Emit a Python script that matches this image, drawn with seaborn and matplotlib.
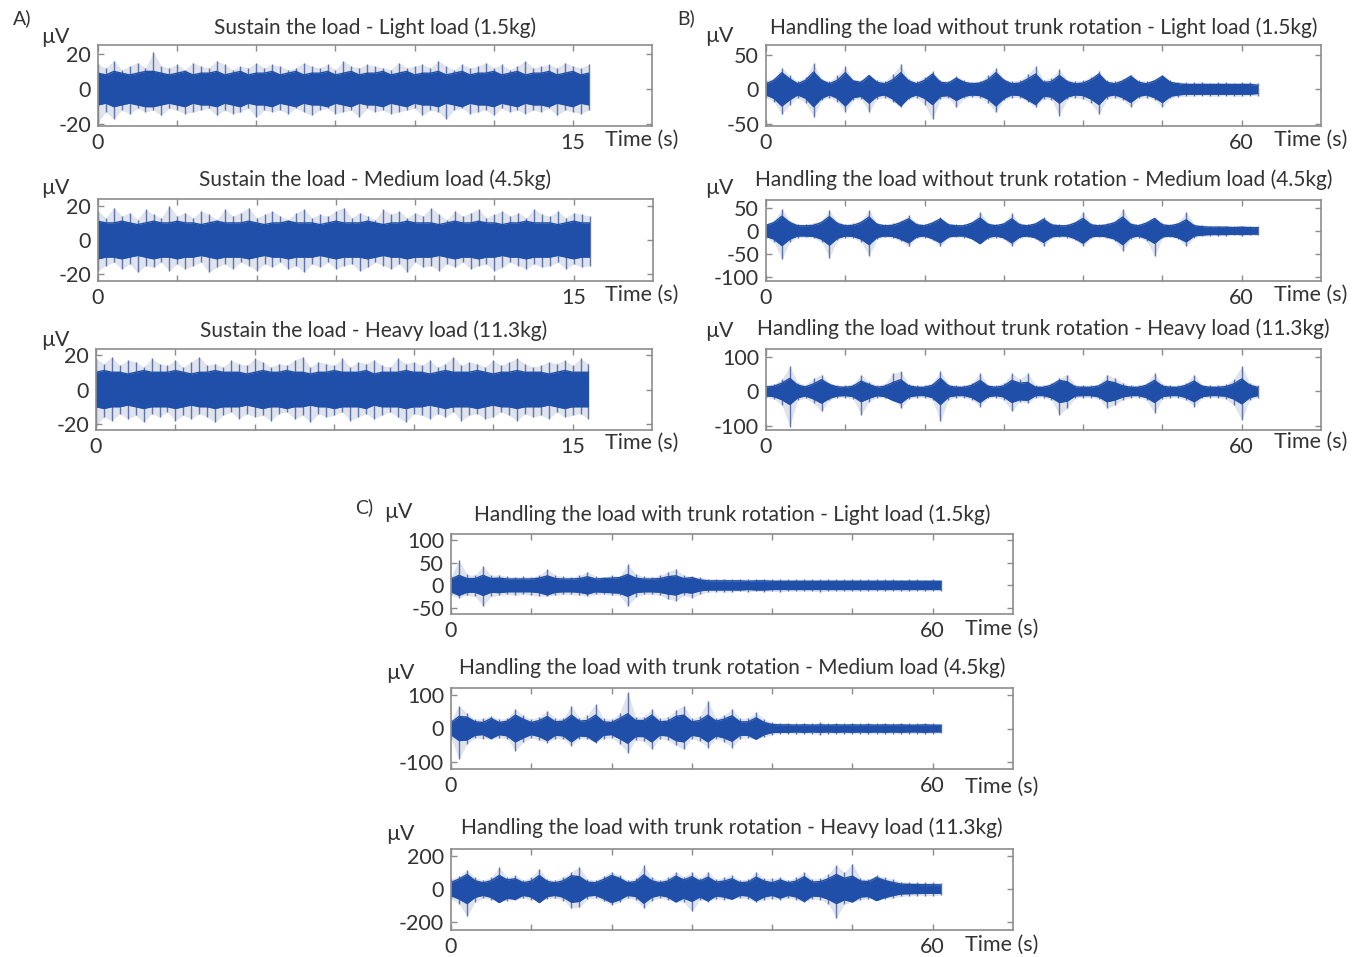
import numpy as np
import matplotlib.pyplot as plt
import seaborn as sns

sns.set_theme(style="white")
plt.rcParams["font.family"] = ["Lato", "DejaVu Sans"]
plt.rcParams["axes.unicode_minus"] = False

# EMG traces, stored as envelopes:
# core = half-width of the dense band, up / down = spike tips (uV)
# A panels: one value every 0.25 s, B and C panels: one value every 1 s

a1_core = [9, 8, 10, 9, 8, 9, 10, 10, 9, 8, 9, 10, 8, 9, 9, 10, 8, 9, 10, 8, 9, 9, 10, 8, 9, 10, 8, 9, 9, 10, 8,
           9, 10, 8, 9, 9, 10, 8, 9, 10, 8, 9, 9, 10, 8, 9, 10, 8, 9, 9, 10, 8, 9, 10, 8, 9, 9, 10, 8, 9, 10, 8, 9]
a1_up = [14, 12, 16, 11, 13, 15, 12, 21, 13, 12, 14, 11, 15, 13, 12, 16, 14, 11, 13, 12, 15, 12, 14, 13, 11,
         12, 15, 13, 12, 14, 11, 16, 13, 12, 14, 13, 12, 11, 15, 12, 13, 14, 12, 16, 13, 11, 14, 12, 13, 15,
         12, 14, 11, 13, 16, 12, 13, 14, 12, 15, 13, 12, 14]
a1_down = [19, 13, 17, 12, 14, 11, 13, 12, 15, 11, 12, 14, 13, 12, 11, 15, 12, 14, 13, 11, 16, 12, 13, 12, 14,
           11, 13, 15, 12, 11, 14, 13, 12, 16, 11, 13, 12, 14, 13, 12, 11, 15, 12, 13, 17, 12, 11, 14, 13, 12,
           15, 11, 13, 12, 14, 12, 13, 11, 15, 12, 13, 14, 12]

a2_core = [11, 10, 10, 11, 10, 9, 10, 11, 10, 10, 11, 10, 10, 9, 10, 11, 10, 10, 10, 11, 10, 9, 10, 10, 11,
           10, 10, 10, 9, 10, 11, 10, 10, 10, 11, 10, 9, 10, 10, 11, 10, 10, 10, 9, 10, 11, 10, 10, 11, 10,
           10, 9, 10, 10, 11, 10, 10, 10, 9, 10, 11, 10, 10]
a2_up = [17, 13, 19, 14, 16, 12, 18, 15, 13, 20, 14, 16, 13, 17, 15, 12, 18, 14, 16, 19, 13, 15, 17, 14, 12,
         16, 18, 13, 15, 14, 17, 19, 13, 16, 14, 12, 18, 15, 17, 13, 16, 14, 19, 15, 12, 17, 14, 16, 18, 13,
         15, 17, 14, 16, 13, 18, 15, 14, 17, 13, 16, 15, 14]
a2_down = [18, 15, 13, 17, 14, 19, 15, 16, 13, 18, 14, 17, 15, 13, 19, 16, 14, 17, 13, 15, 18, 14, 16, 13, 17,
           15, 19, 14, 16, 13, 17, 15, 14, 18, 16, 13, 15, 17, 14, 19, 13, 16, 15, 18, 14, 16, 13, 17, 15, 14,
           18, 16, 13, 15, 17, 14, 16, 15, 13, 17, 14, 16, 15]

a3_core = [10, 11, 10, 10, 9, 10, 11, 10, 10, 10, 11, 10, 9, 10, 10, 11, 10, 10, 10, 9, 10, 11, 10, 10, 11,
           10, 10, 9, 10, 10, 11, 10, 10, 10, 11, 9, 10, 10, 10, 11, 10, 10, 9, 10, 11, 10, 10, 10, 11, 10,
           9, 10, 10, 11, 10, 10, 10, 9, 10, 11, 10, 10, 10]
a3_up = [18, 15, 19, 14, 17, 16, 13, 18, 15, 14, 17, 13, 16, 19, 14, 15, 13, 17, 15, 14, 18, 16, 13, 15, 14,
         17, 19, 13, 16, 15, 14, 18, 13, 16, 15, 17, 14, 13, 18, 15, 16, 14, 17, 13, 15, 19, 14, 16, 15, 13,
         17, 14, 16, 18, 15, 13, 14, 16, 15, 17, 14, 18, 15]
a3_down = [21, 16, 18, 14, 17, 15, 19, 14, 16, 13, 18, 15, 17, 14, 16, 19, 15, 13, 17, 14, 16, 15, 18, 14, 13,
           17, 15, 19, 14, 16, 15, 13, 18, 16, 14, 17, 15, 13, 16, 19, 14, 15, 17, 14, 16, 13, 18, 15, 14, 17,
           16, 13, 15, 18, 14, 16, 15, 17, 13, 16, 15, 14, 17]

b1_core = [8, 13, 24, 15, 8, 13, 25, 13, 8, 13, 24, 12, 10, 20, 10, 8, 14, 24, 12, 8, 13, 22, 10, 9, 16,
           10, 8, 9, 14, 24, 13, 8, 9, 15, 22, 10, 11, 20, 11, 8, 9, 14, 22, 10, 8, 12, 19, 10, 8, 12,
           19, 10, 8, 7, 7, 7, 7, 7, 7, 7, 7, 7, 6]
b1_up = [13, 16, 31, 20, 12, 18, 38, 15, 12, 20, 33, 14, 13, 19, 14, 12, 22, 36, 15, 12, 18, 26, 13, 12, 19,
         13, 11, 12, 20, 31, 15, 12, 13, 22, 33, 14, 16, 29, 14, 12, 13, 18, 26, 13, 12, 15, 21, 13, 12, 14,
         21, 13, 11, 10, 10, 11, 9, 10, 10, 9, 10, 10, 9]
b1_down = [12, 18, 36, 22, 12, 20, 40, 16, 12, 18, 33, 15, 14, 33, 14, 12, 18, 26, 14, 12, 22, 43, 14, 12, 26,
           13, 11, 12, 20, 33, 16, 12, 12, 18, 26, 14, 15, 38, 14, 12, 14, 20, 36, 14, 12, 15, 26, 13, 12, 15,
           26, 13, 11, 10, 10, 9, 10, 10, 9, 10, 10, 9, 9]

b2_core = [12, 18, 32, 18, 11, 11, 12, 18, 31, 16, 11, 12, 18, 30, 14, 11, 12, 18, 26, 13, 11, 17, 26, 13, 11,
           11, 17, 28, 14, 11, 15, 26, 13, 11, 15, 25, 13, 11, 11, 17, 27, 13, 11, 13, 18, 30, 14, 11, 17, 27,
           13, 11, 15, 24, 11, 9, 8, 8, 8, 7, 8, 7, 7]
b2_up = [15, 22, 48, 22, 15, 14, 16, 22, 45, 20, 15, 16, 22, 45, 18, 14, 16, 22, 34, 16, 15, 20, 30, 16, 14,
         15, 20, 41, 18, 15, 18, 38, 16, 14, 18, 30, 16, 14, 15, 20, 41, 16, 14, 16, 20, 48, 18, 15, 20, 27,
         16, 14, 18, 41, 15, 12, 11, 11, 11, 10, 11, 10, 10]
b2_down = [15, 24, 62, 24, 15, 14, 16, 24, 58, 20, 15, 16, 24, 55, 18, 14, 16, 22, 34, 16, 15, 20, 34, 16, 14,
           15, 18, 26, 18, 15, 18, 34, 16, 14, 18, 34, 16, 14, 15, 20, 34, 16, 14, 16, 22, 44, 18, 15, 22, 55,
           16, 14, 18, 34, 15, 12, 11, 11, 11, 10, 11, 10, 10]

b3_core = [13, 15, 24, 38, 18, 13, 22, 34, 20, 13, 12, 15, 30, 20, 12, 15, 26, 34, 16, 12, 12, 18, 38, 16, 12,
           12, 18, 32, 15, 12, 16, 32, 24, 26, 12, 12, 18, 32, 28, 13, 12, 12, 16, 30, 25, 16, 12, 12, 18, 32,
           15, 12, 12, 18, 30, 15, 12, 12, 14, 22, 36, 18, 12]
b3_up = [18, 22, 35, 73, 25, 20, 39, 49, 25, 18, 18, 22, 49, 28, 18, 22, 53, 58, 22, 18, 18, 25, 58, 22, 18,
         18, 25, 53, 20, 18, 25, 53, 35, 53, 18, 18, 25, 39, 49, 20, 18, 18, 22, 49, 39, 25, 18, 18, 25, 53,
         22, 18, 18, 25, 49, 20, 18, 18, 22, 35, 73, 25, 18]
b3_down = [18, 22, 40, 102, 25, 20, 34, 58, 25, 18, 18, 22, 68, 30, 18, 20, 20, 49, 22, 18, 18, 25, 87, 24, 18,
           18, 25, 44, 20, 18, 25, 58, 30, 34, 18, 18, 25, 68, 49, 20, 18, 18, 22, 49, 39, 25, 18, 18, 25, 63,
           22, 18, 18, 25, 44, 20, 18, 18, 22, 40, 83, 25, 18]

c1_core = [14, 22, 15, 15, 22, 15, 16, 14, 14, 14, 14, 16, 21, 15, 14, 14, 15, 19, 14, 15, 16, 17, 24, 16, 14,
           14, 15, 19, 21, 15, 17, 12, 10, 10, 10, 10, 10, 9, 10, 10, 9, 9, 9, 9, 9, 9, 9, 9, 9, 9,
           9, 9, 9, 9, 9, 9, 9, 9, 9, 9, 9, 9]
c1_up = [20, 55, 24, 22, 42, 22, 23, 20, 19, 20, 19, 22, 36, 22, 20, 19, 22, 30, 20, 19, 22, 20, 46, 25, 20,
         19, 22, 30, 36, 22, 20, 18, 15, 14, 15, 13, 14, 14, 13, 14, 13, 14, 13, 13, 14, 13, 13, 14, 13, 13,
         14, 13, 13, 14, 13, 13, 12, 13, 13, 12, 13, 12]
c1_down = [22, 27, 22, 24, 46, 24, 22, 20, 22, 20, 22, 24, 24, 22, 20, 20, 22, 24, 20, 20, 22, 22, 46, 25, 20,
           20, 22, 30, 34, 22, 27, 20, 15, 14, 15, 14, 13, 14, 13, 14, 13, 14, 13, 13, 13, 13, 14, 13, 13, 13,
           13, 13, 13, 12, 13, 12, 13, 13, 12, 13, 12, 12]

c2_core = [18, 36, 34, 20, 18, 30, 18, 22, 40, 28, 18, 24, 36, 20, 22, 40, 22, 24, 40, 20, 18, 30, 44, 24, 24,
           40, 20, 22, 36, 40, 20, 24, 40, 22, 28, 38, 20, 20, 32, 18, 12, 11, 11, 10, 11, 10, 11, 10, 11, 10,
           11, 10, 11, 10, 11, 10, 11, 10, 10, 11, 10, 10]
c2_up = [25, 68, 45, 28, 30, 38, 28, 32, 58, 40, 28, 35, 53, 30, 32, 68, 30, 40, 73, 30, 28, 45, 110, 35, 35,
         58, 30, 35, 55, 68, 30, 38, 83, 30, 40, 58, 30, 32, 48, 28, 18, 16, 17, 15, 16, 15, 18, 15, 16, 15,
         16, 15, 17, 15, 16, 15, 16, 15, 15, 16, 15, 14]
c2_down = [30, 92, 45, 28, 30, 32, 28, 30, 67, 40, 28, 35, 42, 30, 32, 52, 30, 32, 42, 30, 28, 45, 72, 35, 38,
           62, 30, 35, 50, 62, 30, 38, 57, 30, 40, 57, 30, 28, 32, 26, 18, 16, 15, 17, 15, 16, 18, 15, 16, 15,
           16, 15, 17, 15, 16, 15, 16, 15, 15, 16, 15, 14]

c3_core = [40, 60, 88, 50, 38, 50, 82, 55, 62, 38, 48, 82, 45, 38, 50, 80, 75, 42, 38, 58, 82, 65, 38, 45, 86,
           50, 38, 48, 78, 55, 75, 48, 72, 42, 48, 62, 38, 42, 72, 48, 38, 55, 38, 48, 75, 42, 45, 62, 88, 65,
           78, 48, 45, 70, 52, 40, 30, 28, 27, 26, 26, 25]
c3_up = [60, 80, 114, 70, 55, 70, 134, 70, 84, 55, 70, 124, 60, 55, 75, 104, 134, 60, 55, 80, 104, 84, 55, 65,
         144, 70, 55, 70, 104, 75, 104, 65, 104, 60, 70, 84, 55, 60, 104, 65, 64, 70, 55, 70, 104, 60, 65, 90,
         144, 100, 154, 65, 60, 84, 70, 60, 45, 42, 40, 40, 42, 38]
c3_down = [60, 90, 166, 80, 55, 65, 66, 70, 65, 55, 65, 66, 60, 55, 70, 116, 110, 60, 55, 75, 96, 80, 55, 65,
           116, 70, 55, 65, 76, 80, 136, 65, 76, 60, 65, 56, 55, 60, 80, 65, 60, 65, 55, 65, 80, 60, 65, 90,
           176, 90, 80, 65, 60, 56, 60, 55, 45, 42, 40, 40, 40, 38]

titles = [
    "Sustain the load - Light load (1.5kg)",
    "Sustain the load - Medium load (4.5kg)",
    "Sustain the load - Heavy load (11.3kg)",
    "Handling the load without trunk rotation - Light load (1.5kg)",
    "Handling the load without trunk rotation - Medium load (4.5kg)",
    "Handling the load without trunk rotation - Heavy load (11.3kg)",
    "Handling the load with trunk rotation - Light load (1.5kg)",
    "Handling the load with trunk rotation - Medium load (4.5kg)",
    "Handling the load with trunk rotation - Heavy load (11.3kg)",
]
yticks = [
    [-20, 0, 20], [-20, 0, 20], [-20, 0, 20],
    [-50, 0, 50], [-100, -50, 0, 50], [-100, 0, 100],
    [-50, 0, 50, 100], [-100, 0, 100], [-200, 0, 200],
]
ylims = [
    (-21, 25), (-24, 24), (-23.5, 23.5),
    (-53, 64), (-109, 67), (-112, 123),
    (-63, 113), (-121, 121), (-248, 242),
]
steps = [0.25, 0.25, 0.25, 1, 1, 1, 1, 1, 1]
xmax = [17.5, 17.5, 17.5, 70, 70, 70, 70, 70, 70]
xlast = [15, 15, 15, 60, 60, 60, 60, 60, 60]
xstep = [2.5, 2.5, 2.5, 10, 10, 10, 10, 10, 10]
traces = [
    (a1_core, a1_up, a1_down), (a2_core, a2_up, a2_down), (a3_core, a3_up, a3_down),
    (b1_core, b1_up, b1_down), (b2_core, b2_up, b2_down), (b3_core, b3_up, b3_down),
    (c1_core, c1_up, c1_down), (c2_core, c2_up, c2_down), (c3_core, c3_up, c3_down),
]

# layout in pixels: axes box (left, top, right, bottom), "uV" label, "Time (s)" label
W, H = 1363, 957
boxes = [
    (98, 45, 652, 126), (98, 199, 653, 281), (96, 349, 652, 430),
    (766, 45, 1321, 126), (766, 200, 1321, 281), (766, 349, 1321, 430),
    (451, 534, 1013, 614), (451, 688, 1013, 769), (451, 849, 1013, 930),
]
uv_pos = [(55, 37), (55, 188), (55, 340), (719, 36), (719, 188), (719, 331),
          (398, 512), (400, 673), (400, 834)]
title_y = [28, 180, 331, 28, 180, 329, 515, 668, 828]
time_pos = [(605, 140), (605, 295), (605, 443), (1274, 140), (1274, 295), (1274, 442),
            (965, 629), (965, 787), (965, 945)]

CORE = "#1f4fa8"
SPIKE = "#4a5f9e"
HALO = "#7080b0"
TEXT = "#333333"
FRAME = "#8c8c8c"
FS = 15.5
TITLE_FS = 15

fig = plt.figure(figsize=(W / 100, H / 100), dpi=100)
fig.patch.set_facecolor("white")

for i in range(9):
    core, up, down = (np.array(v, dtype=float) for v in traces[i])
    l, t, r, b = boxes[i]
    ax = fig.add_axes([l / W, 1 - b / H, (r - l) / W, (b - t) / H])

    n = min(len(up), len(down))
    ts = np.arange(n) * steps[i]
    ax.fill_between(ts, -down[:n], up[:n], color=HALO, alpha=0.22, lw=0, zorder=1)
    ax.vlines(ts, -down[:n], up[:n], color=SPIKE, lw=1.0, alpha=0.85, zorder=1.5)
    tc = np.arange(len(core)) * steps[i]
    ax.fill_between(tc, -core, core, color=CORE, lw=0, zorder=2)
    sns.lineplot(x=tc, y=core, ax=ax, color=CORE, lw=1.0, legend=False, zorder=2.5)
    sns.lineplot(x=tc, y=-core, ax=ax, color=CORE, lw=1.0, legend=False, zorder=2.5)

    ax.set_xlim(0, xmax[i])
    ax.set_ylim(*ylims[i])
    xt = np.arange(0, xmax[i] - 1e-9, xstep[i])
    ax.set_xticks(xt)
    ax.set_xticklabels(["0" if v == 0 else (str(xlast[i]) if v == xlast[i] else "") for v in xt])
    ax.set_yticks(yticks[i])
    ax.set_yticklabels([str(v) for v in yticks[i]])
    ax.tick_params(direction="in", length=4, width=1, color=FRAME, labelsize=FS,
                   labelcolor=TEXT, top=True, right=True, bottom=True, left=True, pad=5)
    for s in ax.spines.values():
        s.set_color(FRAME)
        s.set_linewidth(1.2)
        s.set_zorder(3)
    ax.set_xlabel("")
    ax.set_ylabel("")

    fig.text((l + r) / 2 / W, 1 - title_y[i] / H, titles[i], ha="center", va="center",
             fontsize=TITLE_FS, color=TEXT)
    fig.text(uv_pos[i][0] / W, 1 - uv_pos[i][1] / H, "\u00b5V", ha="center", va="center",
             fontsize=FS, color=TEXT)
    fig.text(time_pos[i][0] / W, 1 - time_pos[i][1] / H, "Time (s)", ha="left", va="center",
             fontsize=FS, color=TEXT)

for lab, (x, y) in zip(["A)", "B)", "C)"], [(22, 18), (686, 18), (364, 507)]):
    fig.text(x / W, 1 - y / H, lab, ha="center", va="center", fontsize=FS - 1.5, color=TEXT)

fig.savefig("out.png", dpi=100, facecolor="white")
